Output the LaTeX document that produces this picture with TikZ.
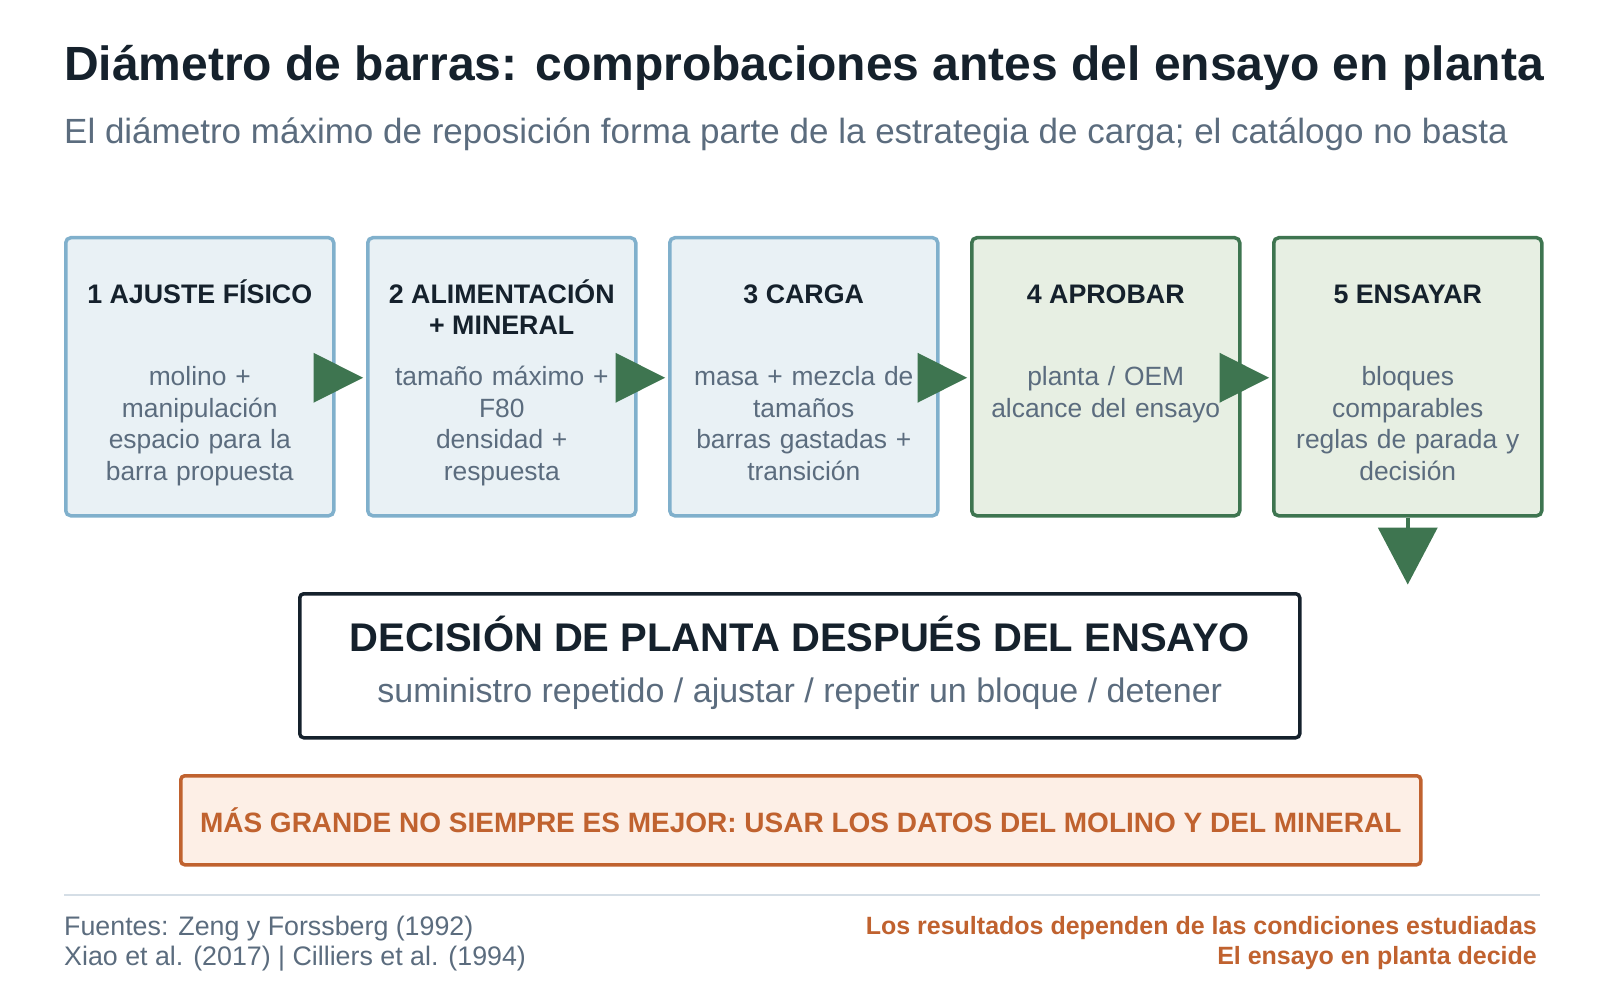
\documentclass[tikz,border=0pt]{standalone}
\usepackage{fontspec}
\setmainfont{Liberation Sans}
\usetikzlibrary{calc}
\definecolor{ink}{HTML}{15212C}
\definecolor{mut}{HTML}{5B6C7E}
\definecolor{bfill}{HTML}{E9F1F5}
\definecolor{bline}{HTML}{80B0CC}
\definecolor{gfill}{HTML}{E7EFE3}
\definecolor{gline}{HTML}{3E7550}
\definecolor{ofill}{HTML}{FDEFE6}
\definecolor{oline}{HTML}{C0622F}
\definecolor{rule}{HTML}{D5DEE6}
\begin{document}
\begin{tikzpicture}[x=1pt,y=-1pt,
 box/.style={draw=bline,fill=bfill,line width=3.5pt,rounded corners=5pt,minimum width=268pt,minimum height=278pt,anchor=north west},
 gbox/.style={box,draw=gline,fill=gfill},
 hd/.style={font=\fontsize{26.8}{31}\selectfont\bfseries,text=ink,align=center,anchor=center},
 bd/.style={font=\fontsize{26.4}{31.5}\selectfont,text=mut,align=center,anchor=north,text width=262pt},
 tri/.style={fill=gline}]
\useasboundingbox (0,0) rectangle (1600,1000);
\node[anchor=west,font=\fontsize{48}{54}\selectfont\bfseries,text=ink,inner sep=0] (t) at (64,68) {Diámetro de barras: comprobaciones antes del ensayo en planta};
\node[anchor=west,font=\fontsize{35}{40}\selectfont,text=mut,inner sep=0] (s) at (64,134) {El diámetro máximo de reposición forma parte de la estrategia de carga; el catálogo no basta};
\foreach \i/\st/\h/\b in {1/box/{1 AJUSTE FÍSICO}/{molino +\\manipulación\\espacio para la\\barra propuesta},
 2/box/{2 ALIMENTACIÓN\\+ MINERAL}/{tamaño máximo +\\F80\\densidad +\\respuesta},
 3/box/{3 CARGA}/{masa + mezcla de\\tamaños\\barras gastadas +\\transición},
 4/gbox/{4 APROBAR}/{planta / OEM\\alcance del ensayo},
 5/gbox/{5 ENSAYAR}/{bloques\\comparables\\reglas de parada y\\decisión}}{
 \node[\st] (b\i) at ({64+302*(\i-1)},236) {};
 \node[hd,anchor=north] (h\i) at ($(b\i.north)+(0,36)$) {\rule{0pt}{28pt}\h};
 \node[bd] (d\i) at ($(b\i.north)+(0,127)$) {\b};
}
\foreach \i/\j in {1/2,2/3,3/4,4/5}{
 \fill[tri] ($(b\i.east)+(-22,-24)$) -- ($(b\j.west)+(-3,1)$) -- ($(b\i.east)+(-22,26)$) -- cycle;
}
\coordinate (dn) at ($(b5.south)+(0,67)$);
\draw[gline,line width=3.5pt] (b5.south) -- ($(b5.south)+(0,14)$);
\fill[tri] ($(b5.south)+(-30,10)$) -- (dn) -- ($(b5.south)+(30,10)$) -- cycle;
\node[draw=ink,line width=3.5pt,rounded corners=4pt,minimum width=1000pt,minimum height=144pt,anchor=north west] (dec) at (298,592) {};
\node[font=\fontsize{40}{46}\selectfont\bfseries,text=ink] (dect) at ($(dec.north)+(0,42)$) {DECISIÓN DE PLANTA DESPUÉS DEL ENSAYO};
\node[font=\fontsize{34}{40}\selectfont,text=mut] (decs) at ($(dec.north)+(0,102)$) {suministro repetido / ajustar / repetir un bloque / detener};
\node[draw=oline,fill=ofill,line width=3.5pt,rounded corners=4pt,minimum width=1240pt,minimum height=89pt,anchor=north west] (o) at (179,774) {};
\node[font=\fontsize{28}{32}\selectfont\bfseries,text=oline] (ot) at (o.center) {MÁS GRANDE NO SIEMPRE ES MEJOR: USAR LOS DATOS DEL MOLINO Y DEL MINERAL};
\coordinate (r1) at (64,895); \coordinate (r2) at (1540,895);
\draw[rule,line width=2pt] (r1) -- (r2);
\node[anchor=north west,align=left,font=\fontsize{26.8}{30}\selectfont,text=mut,inner sep=0] (fl) at (64,916) {Fuentes: Zeng y Forssberg (1992)\\Xiao et al. (2017) | Cilliers et al. (1994)};
\node[anchor=north east,align=right,font=\fontsize{25}{30}\selectfont\bfseries,text=oline,inner sep=0] (fr) at (1537,916) {Los resultados dependen de las condiciones estudiadas\\El ensayo en planta decide};
\end{tikzpicture}
\end{document}
